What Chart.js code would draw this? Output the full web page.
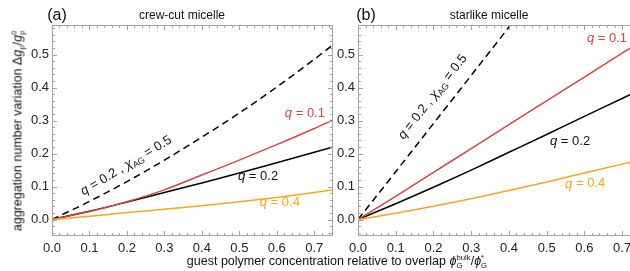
<!DOCTYPE html>
<html>
<head>
<meta charset="utf-8">
<script src="https://cdn.jsdelivr.net/npm/chart.js@4"></script>
<style>
  html, body { margin: 0; padding: 0; overflow: hidden; background: #fff; }
  body { width: 630px; height: 271px; position: relative; font-family: "Liberation Sans", Arial, sans-serif; color: #111; }
  .panel { position: absolute; top: 0; height: 271px; }
  #panelA { left: 0; width: 340px; }
  #panelB { left: 300px; width: 350px; }
  .txt { position: absolute; white-space: nowrap; transform: translate(-50%, -50%); }
  .tag { font-size: 16px; }
  .ttl { font-size: 12px; }
  #ytitle { left: 18px; top: 131px; font-size: 12.5px; transform: translate(-50%, -50%) rotate(-90deg); }
  #xtitle { left: 337px; top: 262px; font-size: 12.5px; }
  .ss { display: inline-block; vertical-align: -0.35em; font-size: 0.62em; line-height: 0.95; text-align: left; }
  .ss span { display: block; }
</style>
</head>
<body>
<div class="panel" id="panelA"><canvas id="chartA" width="340" height="271"></canvas></div>
<div class="panel" id="panelB"><canvas id="chartB" width="350" height="271"></canvas></div>

<div class="txt tag" style="left:57px;top:15px">(a)</div>
<div class="txt ttl" style="left:182px;top:15px">crew-cut micelle</div>
<div class="txt tag" style="left:366px;top:15px">(b)</div>
<div class="txt ttl" style="left:489px;top:15px">starlike micelle</div>
<div class="txt" id="ytitle">aggregation number variation Δ<i>g</i><span class="ss"><span>&nbsp;</span><span>p</span></span>/<i>g</i><span class="ss"><span>0</span><span>p</span></span></div>
<div class="txt" id="xtitle">guest polymer concentration relative to overlap <i>ϕ</i><span class="ss"><span>bulk</span><span>G</span></span>/<i>ϕ</i><span class="ss"><span>*</span><span>G</span></span></div>

<script>
// concentration values (x)
const conc = [0, 0.1, 0.2, 0.3, 0.4, 0.5, 0.6, 0.7, 0.75];

// (a) crew-cut micelle
const crewQ01 = [0, 0.024, 0.054, 0.09, 0.135, 0.18, 0.227, 0.276, 0.302];
const crewQ02 = [0, 0.025, 0.053, 0.082, 0.111, 0.141, 0.172, 0.204, 0.22];
const crewQ04 = [0, 0.01, 0.021, 0.031, 0.042, 0.054, 0.067, 0.082, 0.09];
const crewChi = [0, 0.055, 0.115, 0.18, 0.25, 0.323, 0.402, 0.486, 0.53];

// (b) starlike micelle
const starQ01 = [0, 0.07, 0.143, 0.215, 0.288, 0.36, 0.432, 0.505, 0.54];
const starQ02 = [0, 0.048, 0.098, 0.15, 0.204, 0.258, 0.313, 0.367, 0.395];
const starQ04 = [0, 0.019, 0.04, 0.063, 0.088, 0.114, 0.141, 0.168, 0.181];
const starChiConc = [0, 0.1, 0.2, 0.3, 0.4, 0.45];
const starChi = [0, 0.145, 0.291, 0.437, 0.584, 0.66];

const RED = "#d64545";
const ORANGE = "#f9a61e";
const FONT = '"Liberation Sans", Arial, sans-serif';

const pts = (xs, ys) => xs.map((x, i) => ({ x: x, y: ys[i] }));

function line(xs, ys, color, dashed) {
  return {
    data: pts(xs, ys),
    borderColor: color,
    borderWidth: 1.5,
    borderDash: dashed ? [7, 4.5] : [],
    pointRadius: 0,
    cubicInterpolationMode: "monotone",
    fill: false
  };
}

// rich text pieces: [text, italic, subscript]
const lblQ = v => [["q", true], [" = " + v, false]];
const lblChi = [["q", true], [" = 0.2 , ", false], ["χ", true], ["AG", false, true], [" = 0.5", false]];

function drawRich(ctx, parts, cx, cy, angle, color, size) {
  const fontOf = p => (p[1] ? "italic " : "") + (p[2] ? size * 0.68 : size) + "px " + FONT;
  let total = 0;
  parts.forEach(p => { ctx.font = fontOf(p); total += ctx.measureText(p[0]).width; });
  ctx.save();
  ctx.translate(cx, cy);
  ctx.rotate(angle * Math.PI / 180);
  ctx.fillStyle = color;
  ctx.textBaseline = "middle";
  ctx.textAlign = "left";
  let x = -total / 2;
  parts.forEach(p => {
    ctx.font = fontOf(p);
    ctx.fillText(p[0], x, p[2] ? size * 0.3 : 0);
    x += ctx.measureText(p[0]).width;
  });
  ctx.restore();
}

// frame with inward ticks (Mathematica style) + curve labels
const framePlugin = {
  id: "frame",
  afterDatasetsDraw(chart, args, opts) {
    const { ctx, chartArea: a, scales } = chart;
    const xs = scales.x, ys = scales.y;
    const L = Math.round(a.left) + 0.5, R = Math.round(a.right) - 0.5;
    const T = Math.round(a.top) + 0.5, B = Math.round(a.bottom) - 0.5;
    ctx.save();
    ctx.strokeStyle = "#a3a3a3";
    ctx.lineWidth = 1;
    ctx.strokeRect(L, T, R - L, B - T);
    ctx.beginPath();
    for (let i = 0; i * 0.02 <= xs.max + 1e-9; i++) {
      const px = Math.round(xs.getPixelForValue(i * 0.02)) + 0.5;
      const len = i % 5 === 0 ? 4.5 : 2.5;
      ctx.moveTo(px, B); ctx.lineTo(px, B - len);
      ctx.moveTo(px, T); ctx.lineTo(px, T + len);
    }
    for (let i = -2; i * 0.02 <= ys.max + 1e-9; i++) {
      const v = i * 0.02;
      if (v < ys.min) continue;
      const py = Math.round(ys.getPixelForValue(v)) + 0.5;
      const len = i % 5 === 0 ? 4.5 : 2.5;
      ctx.moveTo(L, py); ctx.lineTo(L + len, py);
      ctx.moveTo(R, py); ctx.lineTo(R - len, py);
    }
    ctx.stroke();
    ctx.restore();

    (opts.labels || []).forEach(l => {
      drawRich(ctx, l.parts, xs.getPixelForValue(l.x), ys.getPixelForValue(l.y), l.angle || 0, l.color, 13);
    });
  }
};

function makeChart(id, datasets, yWidth, rightPad, labels) {
  const tickFont = { family: FONT, size: 13 };
  return new Chart(document.getElementById(id), {
    type: "line",
    data: { datasets: datasets },
    options: {
      responsive: false,
      animation: false,
      layout: { padding: { top: 25, right: rightPad, left: 0, bottom: 0 } },
      plugins: { legend: { display: false }, tooltip: { enabled: false }, frame: { labels: labels } },
      scales: {
        x: {
          type: "linear", min: 0, max: 0.75,
          grid: { display: false, drawTicks: false },
          border: { display: false },
          ticks: { stepSize: 0.1, includeBounds: false, padding: 5, maxRotation: 0, autoSkip: false,
                   color: "#222", font: tickFont, callback: v => v.toFixed(1) },
          afterFit(s) { s.height = 35; }
        },
        y: {
          type: "linear", min: -0.05, max: 0.59,
          grid: { display: false, drawTicks: false },
          border: { display: false },
          ticks: { stepSize: 0.1, includeBounds: false, padding: 3, autoSkip: false,
                   color: "#222", font: tickFont, callback: v => v.toFixed(1) },
          afterFit(s) { s.width = yWidth; }
        }
      }
    },
    plugins: [framePlugin]
  });
}

makeChart("chartA", [
  line(conc, crewQ04, ORANGE),
  line(conc, crewQ01, RED),
  line(conc, crewQ02, "#000"),
  line(conc, crewChi, "#000", true)
], 52, 7, [
  { x: 0.675, y: 0.323, parts: lblQ("0.1"), color: RED },
  { x: 0.55, y: 0.13, parts: lblQ("0.2"), color: "#111" },
  { x: 0.608, y: 0.051, parts: lblQ("0.4"), color: ORANGE },
  { x: 0.198, y: 0.163, parts: lblChi, color: "#111", angle: -31 }
]);

makeChart("chartB", [
  line(conc, starQ04, ORANGE),
  line(conc, starQ01, RED),
  line(conc, starQ02, "#000"),
  line(starChiConc, starChi, "#000", true)
], 58, 9, [
  { x: 0.66, y: 0.55, parts: lblQ("0.1"), color: RED },
  { x: 0.562, y: 0.238, parts: lblQ("0.2"), color: "#111" },
  { x: 0.602, y: 0.108, parts: lblQ("0.4"), color: ORANGE },
  { x: 0.198, y: 0.372, parts: lblChi, color: "#111", angle: -52 }
]);
</script>
</body>
</html>
